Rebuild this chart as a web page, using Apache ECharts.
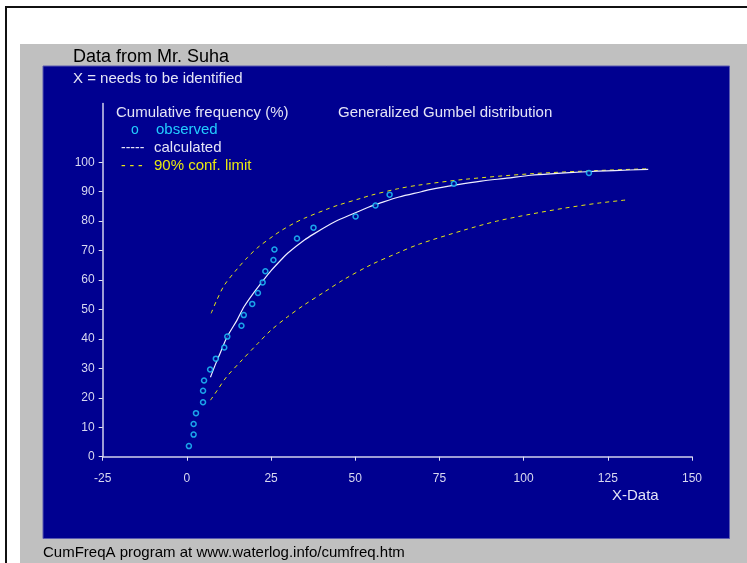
<!DOCTYPE html>
<html>
<head>
<meta charset="utf-8">
<script src="https://cdn.jsdelivr.net/npm/echarts@6/dist/echarts.min.js"></script>
<style>
  html, body { margin: 0; padding: 0; background: #fff; }
  #chart { width: 747px; height: 563px; }
</style>
</head>
<body>
<div id="chart"></div>
<script>
// observed points (x, cumulative %)
var obsX = [0.6, 2.0, 2.0, 2.7, 4.8, 4.8, 5.1, 6.9, 8.6, 11.1, 12.0, 16.2, 16.9, 19.4, 21.1, 22.5, 23.3, 25.7, 26.0, 32.7, 37.6, 50.1, 56.0, 60.2, 79.3, 119.4];
var obsY = [3.6, 7.5, 11.1, 14.8, 18.5, 22.4, 25.9, 29.6, 33.3, 37.1, 40.8, 44.5, 48.1, 51.9, 55.6, 59.2, 63.0, 66.8, 70.4, 74.1, 77.8, 81.6, 85.3, 89.0, 92.7, 96.4];

// calculated curve
var calcX = [7, 8.6, 10, 12, 14.9, 17, 19.4, 22.5, 25, 28, 30, 34.9, 37.6, 42.8, 44.8, 51.8, 54.7, 57.7, 63, 69.6, 72.5, 80, 87.4, 95, 102.2, 110, 117.1, 127, 137];
var calcY = [27, 31.7, 35.5, 40.8, 46.4, 51.0, 55.0, 59.6, 63.2, 66.9, 69.2, 73.6, 75.6, 79.1, 80.3, 83.7, 85.1, 86.3, 88.2, 90, 90.8, 92.3, 93.6, 94.6, 95.6, 96.2, 96.7, 97.2, 97.6];

// 90% confidence limits
var upperX = [7.2, 9, 11.2, 15.1, 18, 21.1, 25.7, 28, 32, 34.9, 41.9, 44.8, 51.8, 54.7, 62.6, 68.6, 82.4, 102.2, 122, 137];
var upperY = [48.7, 53.5, 58.4, 64, 67.7, 71.1, 75, 76.8, 79.4, 81, 84.2, 85.4, 87.8, 88.8, 91, 92.2, 94.2, 96.1, 97.2, 97.8];
var lowerX = [7, 9, 11.7, 16.1, 21.1, 25, 30, 34.9, 40.9, 46.8, 54.7, 62.6, 69, 82.4, 92, 102.2, 112, 122, 130.4];
var lowerY = [19.2, 22.5, 27, 32.5, 38.5, 43, 47.6, 51.6, 56, 60.3, 65.2, 69.2, 72.2, 77, 80, 82.4, 84.4, 86.1, 87.2];

var yTicks = [0, 10, 20, 30, 40, 50, 60, 70, 80, 90, 100];

function pairs(xs, ys) {
    var out = [];
    for (var i = 0; i < xs.length; i++) out.push([xs[i], ys[i]]);
    return out;
}

var myChart = echarts.init(document.getElementById('chart'));

var txt = '#e4e4f6';
var font = 'Liberation Sans, Arial, sans-serif';

function label(x, y, s, size, color) {
    return {
        type: 'text', x: x, y: y, z: 10, silent: true,
        style: { text: s, fill: color, font: size + 'px ' + font, textVerticalAlign: 'middle' }
    };
}

option = {
    backgroundColor: '#ffffff',
    animation: false,
    graphic: [
        { type: 'rect', z: -30, shape: { x: 6, y: 7, width: 745, height: 560 },
          style: { fill: '#ffffff', stroke: '#111', lineWidth: 2 } },
        { type: 'rect', z: -20, shape: { x: 20, y: 44, width: 727, height: 519 },
          style: { fill: '#c0c0c0' } },
        { type: 'rect', z: -10, shape: { x: 43, y: 66, width: 686.5, height: 472.5 },
          style: { fill: '#000090', stroke: '#5a5ab0', lineWidth: 1 } },
        label(73, 57, 'Data from Mr. Suha', 18, '#000'),
        label(73, 79, 'X = needs to be identified', 15, txt),
        label(116, 113, 'Cumulative frequency (%)', 15, txt),
        label(338, 113, 'Generalized Gumbel distribution', 15, txt),
        label(131, 130, 'o', 14, '#22ccff'),
        label(156, 130, 'observed', 15, '#22ccff'),
        label(121, 148, '-----', 14, txt),
        label(154, 148, 'calculated', 15, txt),
        label(121, 166, '- - -', 14, '#e8e810'),
        label(154, 166, '90% conf. limit', 15, '#e8e810'),
        label(612, 496, 'X-Data', 15, txt),
        label(43, 553, 'CumFreqA program at www.waterlog.info/cumfreq.htm', 15, '#000')
    ],
    grid: { left: 102.7, right: 55, top: 103.4, bottom: 106.3, containLabel: false },
    xAxis: {
        type: 'value', min: -25, max: 150, interval: 25,
        axisLine: { show: true, onZero: false, lineStyle: { color: '#d0d0ec', width: 1.5 } },
        axisTick: { show: true, length: 4, lineStyle: { color: '#e0e0f4' } },
        axisLabel: { color: '#d8d8f0', fontSize: 12, fontFamily: font, margin: 16,
                     showMinLabel: true, showMaxLabel: true },
        splitLine: { show: false }
    },
    yAxis: {
        type: 'value', min: 0, max: 120,
        axisLine: { show: true, onZero: false, lineStyle: { color: '#d0d0ec', width: 1.5 } },
        axisTick: { show: true, length: 4, customValues: yTicks, lineStyle: { color: '#e0e0f4' } },
        axisLabel: { color: '#d8d8f0', fontSize: 12, fontFamily: font, margin: 8, customValues: yTicks },
        splitLine: { show: false }
    },
    series: [
        {
            name: 'upper', type: 'line', data: pairs(upperX, upperY),
            smooth: 0.3, showSymbol: false, silent: true,
            lineStyle: { color: '#e8e810', width: 1, type: [4, 4] }
        },
        {
            name: 'lower', type: 'line', data: pairs(lowerX, lowerY),
            smooth: 0.3, showSymbol: false, silent: true,
            lineStyle: { color: '#e8e810', width: 1, type: [4, 4] }
        },
        {
            name: 'calculated', type: 'line', data: pairs(calcX, calcY),
            smooth: 0.3, showSymbol: false, silent: true,
            lineStyle: { color: '#eeeeff', width: 1.2 }
        },
        {
            name: 'observed', type: 'scatter', data: pairs(obsX, obsY),
            symbol: 'circle', symbolSize: 5, z: 5,
            itemStyle: { color: '#000090', borderColor: '#22ccff', borderWidth: 1.5 }
        }
    ]
};

myChart.setOption(option);
</script>
</body>
</html>
